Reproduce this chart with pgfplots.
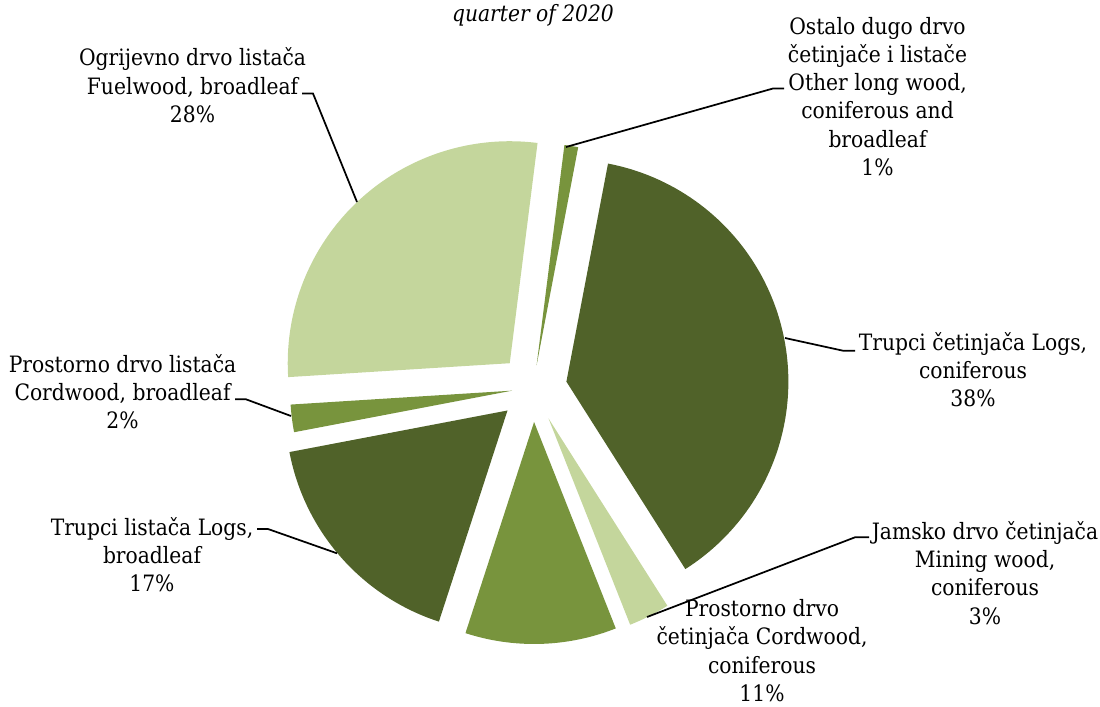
\documentclass[border=0pt]{standalone}
\usepackage{pgfplots}
\pgfplotsset{compat=1.18}
\usepackage{fontspec}
\setmainfont{DejaVu Serif Condensed}
\definecolor{cdark}{RGB}{80,98,41}
\definecolor{cmid}{RGB}{120,148,61}
\definecolor{clight}{RGB}{196,214,156}
\def\cx{533}
\def\cy{388}
\def\R{222}
\def\thetaz{82.8}
% #1 cumulative share before slice (%), #2 share (%), #3 explosion (px), #4 colour
\newcommand{\slice}[4]{%
  \pgfmathsetmacro{\ta}{\thetaz-3.6*(#1+#2)}%
  \pgfmathsetmacro{\tb}{\thetaz-3.6*#1}%
  \pgfmathsetmacro{\tm}{(\ta+\tb)/2}%
  \pgfmathsetmacro{\ax}{\cx+#3*cos(\tm)}%
  \pgfmathsetmacro{\ay}{\cy-#3*sin(\tm)}%
  \edef\temp{\noexpand\addplot[fill=#4, draw=none, domain=\ta:\tb, samples=90, variable=\noexpand\t] ({\ax+\R*cos(\noexpand\t)}, {\ay-\R*sin(\noexpand\t)}) -- (axis cs:\ax,\ay) -- cycle;}%
  \temp
}
\begin{document}
\begin{tikzpicture}
\begin{axis}[
  width=825pt, height=530.25pt, scale only axis,
  xmin=0, xmax=1100, ymin=0, ymax=707, y dir=reverse,
  hide axis, clip=false,
]
\slice{0}{1}{23}{cmid}
\slice{1}{38}{34}{cdark}
\slice{39}{3}{34}{clight}
\slice{42}{11}{34}{cmid}
\slice{53}{17}{34}{cdark}
\slice{70}{2}{21}{cmid}
\slice{72}{28}{34}{clight}

\tikzset{lbl/.style={align=center, inner sep=0pt, font=\fontsize{16.9}{21.2}\selectfont}}
\tikzset{ldr/.style={black, line width=1.3pt}}

\node[lbl, anchor=base] at (axis cs:533,21) {\itshape quarter of 2020};

\node[lbl] at (axis cs:192.5,85.3) {Ogrijevno drvo listača\\Fuelwood, broadleaf\\28\%};
\draw[ldr] (axis cs:302,93.5) -- (axis cs:313,93.5) -- (axis cs:357,202);

\node[lbl] at (axis cs:877.5,96.3) {Ostalo dugo drvo\\četinjače i listače\\Other long wood,\\coniferous and\\broadleaf\\1\%};
\draw[ldr] (axis cs:566,147) -- (axis cs:773,88.5) -- (axis cs:784,88.5);

\node[lbl] at (axis cs:973,369.8) {Trupci četinjača Logs,\\coniferous\\38\%};
\draw[ldr] (axis cs:785,338) -- (axis cs:843,350.7) -- (axis cs:855,350.7);

\node[lbl] at (axis cs:985,573) {Jamsko drvo četinjača\\Mining wood,\\coniferous\\3\%};
\draw[ldr] (axis cs:647,617) -- (axis cs:855,537.3) -- (axis cs:869,537.3);

\node[lbl] at (axis cs:762,650.5) {Prostorno drvo\\četinjača Cordwood,\\coniferous\\11\%};

\node[lbl] at (axis cs:152,554.5) {Trupci listača Logs,\\broadleaf\\17\%};
\draw[ldr] (axis cs:257,529) -- (axis cs:268,529) -- (axis cs:337,553.3);

\node[lbl] at (axis cs:122.5,391.7) {Prostorno drvo listača\\Cordwood, broadleaf\\2\%};
\draw[ldr] (axis cs:235,399.3) -- (axis cs:246,399.3) -- (axis cs:291,416);
\end{axis}
\pgfresetboundingbox
\path[use as bounding box] (0,0) rectangle (825pt,530.25pt);
\end{tikzpicture}
\end{document}
